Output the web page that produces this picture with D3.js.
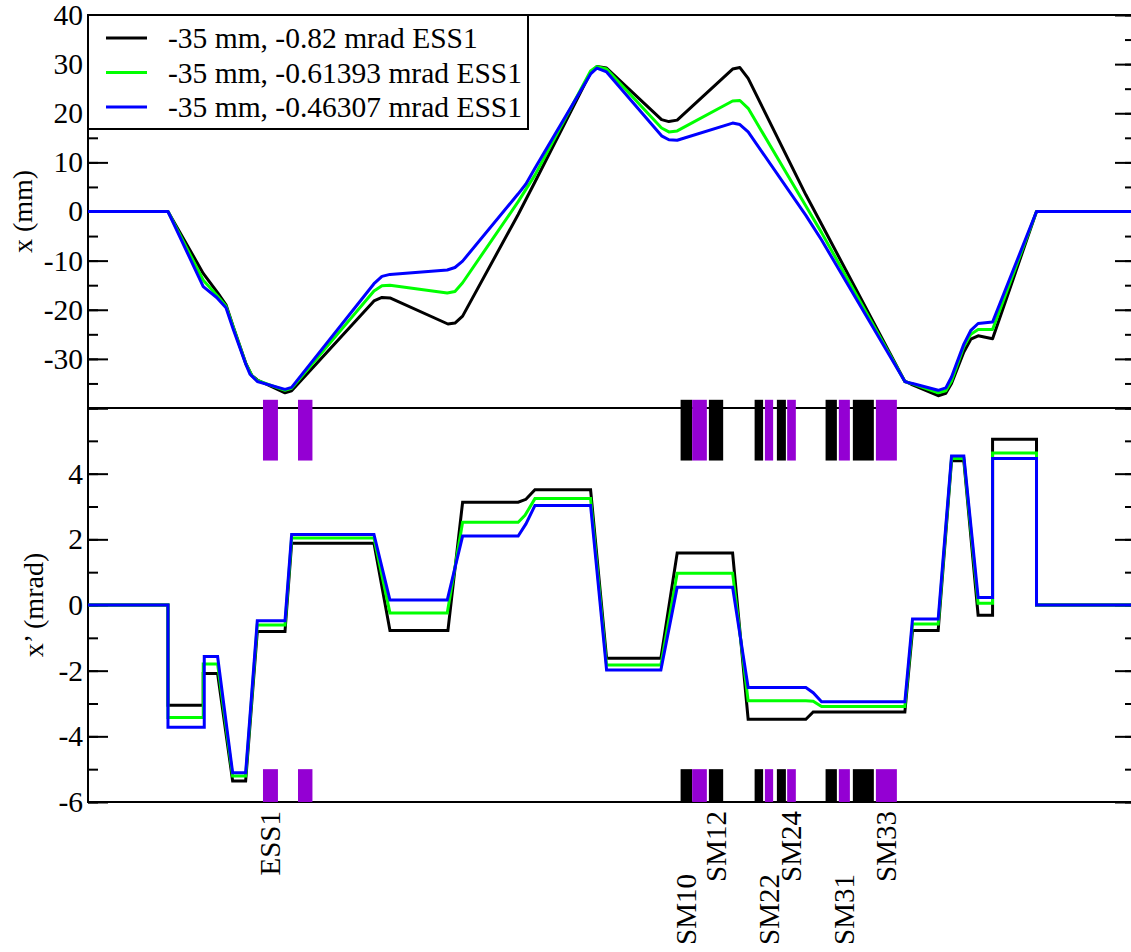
<!DOCTYPE html>
<html>
<head>
<meta charset="utf-8">
<script src="https://cdn.jsdelivr.net/npm/d3@7/dist/d3.min.js"></script>
<style>
  body { margin: 0; background: #fff; }
  #content { width: 1131px; height: 952px; }
  svg text { font-family: 'Liberation Serif', 'Times New Roman', serif; }
</style>
</head>
<body>
<div id="content"></div>
<script>
var seriesNames = ['-35 mm, -0.82 mrad ESS1', '-35 mm, -0.61393 mrad ESS1', '-35 mm, -0.46307 mrad ESS1'];
var seriesColors = ['#000000', '#00ff00', '#0000ff'];

// x (mm) against s (m)
var xBlack = [[0,0],[9.41,0],[13.56,-12.6],[15.29,-16.6],[16.24,-19.0],[17.06,-23.3],[18.59,-31.0],[19.29,-33.4],
  [19.92,-34.3],[23.18,-36.9],[23.96,-36.5],[33.65,-18.2],[34.59,-17.5],[35.53,-17.6],[42.35,-22.9],[43.18,-22.7],
  [44.08,-21.3],[50.62,-0.6],[52.59,6.0],[59.14,28.3],[59.88,29.5],[61.02,29.2],[67.49,18.7],[68.35,18.3],[69.33,18.6],
  [75.85,29.0],[76.71,29.3],[77.68,27.1],[84.47,3.4],[86.32,-2.6],[96.12,-34.6],[96.45,-34.8],[97.02,-35.3],
  [100.04,-37.5],[100.94,-37.0],[101.61,-35.0],[103.06,-28.6],[103.88,-26.0],[104.74,-25.3],[106.44,-25.9],
  [111.61,0],[123.2,0]];
var xGreen = [[0,0],[9.41,0],[13.56,-14.0],[15.29,-17.3],[16.24,-19.3],[17.06,-23.4],[18.59,-31.1],[19.29,-33.4],
  [19.92,-34.4],[23.18,-36.4],[23.96,-36.0],[33.65,-16.2],[34.59,-15.1],[35.53,-15.0],[42.27,-16.6],[43.18,-16.3],
  [44.08,-14.5],[50.62,2.0],[52.59,7.4],[59.14,28.6],[59.88,29.5],[61.02,29.0],[67.49,17.0],[68.35,16.2],[69.33,16.4],
  [75.85,22.5],[76.71,22.6],[77.68,21.0],[84.47,1.1],[86.32,-4.3],[96.12,-34.6],[96.45,-34.8],[97.02,-35.1],
  [100.04,-36.9],[100.94,-36.5],[101.61,-34.5],[103.06,-27.5],[103.88,-25.0],[104.74,-24.0],[106.44,-24.0],
  [111.61,0],[123.2,0]];
var xBlue = [[0,0],[9.41,0],[13.56,-15.3],[15.14,-17.5],[16.24,-19.6],[17.06,-23.8],[18.59,-31.2],[19.06,-33.1],
  [19.92,-34.6],[23.18,-36.2],[23.96,-35.8],[33.65,-14.7],[34.59,-13.2],[35.53,-12.8],[42.27,-11.9],[43.18,-11.4],
  [44.08,-10.1],[50.62,3.6],[51.53,5.6],[52.59,8.8],[59.14,28.0],[59.88,29.2],[61.02,28.4],[67.49,15.4],[68.35,14.6],
  [69.33,14.5],[75.85,18.0],[76.71,17.7],[77.68,16.2],[84.47,-0.8],[86.32,-5.8],[96.12,-34.6],[96.45,-34.8],
  [97.02,-35.0],[100.04,-36.4],[100.94,-35.9],[101.61,-33.7],[103.06,-27.0],[103.88,-24.2],[104.74,-22.8],
  [106.44,-22.5],[111.61,0],[123.2,0]];

// x' (mrad) against s (m)
var xpBlack = [[0,0],[9.41,0],[9.41,-3.05],[13.56,-3.05],[13.56,-2.09],[15.25,-2.09],[17.02,-5.36],[18.55,-5.36],
  [19.92,-0.81],[23.18,-0.81],[23.96,1.88],[33.65,1.88],[35.53,-0.78],[42.35,-0.78],[44.08,3.13],[50.62,3.13],
  [51.53,3.22],[52.59,3.51],[59.14,3.51],[61.02,-1.62],[67.41,-1.62],[69.33,1.58],[75.85,1.58],[77.68,-3.48],
  [84.47,-3.48],[85.33,-3.26],[96.12,-3.26],[97.02,-0.78],[100.04,-0.78],[101.61,4.39],[103.06,4.39],[104.74,-0.31],
  [106.44,-0.31],[106.44,5.05],[111.61,5.05],[111.61,0],[123.2,0]];
var xpGreen = [[0,0],[9.41,0],[9.41,-3.43],[13.56,-3.43],[13.56,-1.80],[15.25,-1.80],[17.02,-5.21],[18.55,-5.21],
  [19.92,-0.61],[23.18,-0.61],[23.96,2.04],[33.65,2.04],[35.53,-0.24],[42.27,-0.24],[44.08,2.52],[50.62,2.52],
  [51.42,2.73],[52.59,3.24],[59.14,3.24],[61.02,-1.83],[67.41,-1.83],[69.33,0.97],[75.85,0.97],[77.68,-2.92],
  [84.47,-2.92],[85.33,-2.93],[86.32,-3.09],[96.12,-3.09],[97.02,-0.58],[100.04,-0.58],[101.61,4.46],[103.06,4.46],
  [104.74,0.05],[106.44,0.05],[106.44,4.63],[111.61,4.63],[111.61,0],[123.2,0]];
var xpBlue = [[0,0],[9.41,0],[9.41,-3.72],[13.68,-3.72],[13.68,-1.57],[15.25,-1.57],[17.02,-5.11],[18.55,-5.11],
  [19.92,-0.48],[23.18,-0.48],[23.96,2.15],[33.65,2.15],[35.53,0.15],[42.27,0.15],[44.08,2.10],[50.62,2.10],
  [51.53,2.47],[52.59,3.03],[59.14,3.03],[61.02,-1.98],[67.41,-1.98],[69.33,0.54],[75.85,0.54],[77.68,-2.51],
  [84.47,-2.51],[85.33,-2.67],[86.32,-2.95],[96.12,-2.95],[97.02,-0.43],[100.04,-0.43],[101.61,4.54],[103.06,4.54],
  [104.74,0.23],[106.44,0.23],[106.44,4.46],[111.61,4.46],[111.61,0],[123.2,0]];

// lattice elements: start s, end s, kind (b = bend, q = quad)
var magnets = [[20.59,22.35,'b'],[24.71,26.41,'b'],
  [69.73,71.09,'q'],[71.09,72.82,'b'],[73.06,74.74,'q'],
  [78.44,79.44,'q'],[79.65,80.62,'b'],[81.06,82.12,'q'],[82.27,83.29,'b'],
  [86.79,88.12,'q'],[88.35,89.65,'b'],[90.0,92.47,'q'],[92.71,95.18,'b']];
var elementNames = ['ESS1', 'SM10', 'SM12', 'SM22', 'SM24', 'SM31', 'SM33'];
var elementS = [21.47, 70.41, 73.9, 80.13, 82.78, 89.0, 93.95];

var xTicks = [-30, -20, -10, 0, 10, 20, 30, 40];
var xpTicks = [-6, -4, -2, 0, 2, 4];

var font = "'Liberation Serif', 'Times New Roman', serif";

var svg = d3.select('div#content').append('svg')
  .attr('width', 1131)
  .attr('height', 952);

var sScale = d3.scaleLinear().domain([0, 123.2]).range([88, 1135]);
var yTop = d3.scaleLinear().domain([-40, 40]).range([408, 15]);
var yBot = d3.scaleLinear().domain([-6, 6]).range([802, 408]);

function drawAxes(y, majors, minorStep, labels){
  var lo = y.domain()[0], hi = y.domain()[1];
  var minors = d3.range(lo, hi + 0.001, minorStep);
  var left = svg.append('g').attr('transform', 'translate(88,0)');
  left.call(d3.axisLeft(y).tickValues(minors).tickSize(-10).tickFormat(''));
  left.select('.domain').remove();
  var leftMaj = svg.append('g').attr('transform', 'translate(88,0)');
  leftMaj.call(d3.axisLeft(y).tickValues(majors).tickSize(-20).tickPadding(5)
    .tickFormat(function(d){ return labels.indexOf(d) >= 0 ? String(d) : ''; }));
  leftMaj.select('.domain').remove();
  leftMaj.attr('font-family', null);
  leftMaj.selectAll('text')
    .style('font-family', font)
    .attr('font-size', 29.5)
    .attr('fill', '#000');
  var right = svg.append('g').attr('transform', 'translate(1135,0)');
  right.call(d3.axisRight(y).tickValues(minors).tickSize(-10).tickFormat(''));
  right.select('.domain').remove();
  var rightMaj = svg.append('g').attr('transform', 'translate(1135,0)');
  rightMaj.call(d3.axisRight(y).tickValues(majors).tickSize(-20).tickFormat(''));
  rightMaj.select('.domain').remove();
  svg.selectAll('.tick line').attr('stroke', '#000').attr('stroke-width', 2);
}

drawAxes(yTop, d3.range(-40, 41, 10), 5, xTicks);
drawAxes(yBot, d3.range(-6, 7, 2), 1, xpTicks);

// frame
svg.append('rect')
  .attr('x', 88).attr('y', 15)
  .attr('width', 1135 - 88).attr('height', 802 - 15)
  .attr('fill', 'none').attr('stroke', '#000').attr('stroke-width', 2);
svg.append('line')
  .attr('x1', 88).attr('x2', 1135)
  .attr('y1', yTop(-40)).attr('y2', yTop(-40))
  .attr('stroke', '#000').attr('stroke-width', 2);

var lineTop = d3.line().x(function(d){ return sScale(d[0]); }).y(function(d){ return yTop(d[1]); });
var lineBot = d3.line().x(function(d){ return sScale(d[0]); }).y(function(d){ return yBot(d[1]); });

[xBlack, xGreen, xBlue].forEach(function(data, i){
  svg.append('path')
    .attr('d', lineTop(data))
    .attr('fill', 'none')
    .attr('stroke', seriesColors[i])
    .attr('stroke-width', 3)
    .attr('stroke-linejoin', 'round');
});
[xpBlack, xpGreen, xpBlue].forEach(function(data, i){
  svg.append('path')
    .attr('d', lineBot(data))
    .attr('fill', 'none')
    .attr('stroke', seriesColors[i])
    .attr('stroke-width', 3)
    .attr('stroke-linejoin', 'miter');
});

// element markers, one row hanging from the panel divide, one sitting on the bottom axis
var markerRows = [[4.4, 6.25], [-6, -5.0]];
markerRows.forEach(function(row){
  svg.append('g')
    .selectAll('rect')
    .data(magnets)
    .enter()
    .append('rect')
    .attr('x', function(d){ return sScale(d[0]); })
    .attr('width', function(d){ return sScale(d[1]) - sScale(d[0]); })
    .attr('y', yBot(row[1]))
    .attr('height', yBot(row[0]) - yBot(row[1]))
    .attr('fill', function(d){ return d[2] === 'b' ? '#9400d3' : '#000000'; });
});

// element names, staggered when the next name is close
for(let i = 0; i < elementNames.length; i++){
  let px = sScale(elementS[i]);
  let next = elementS.filter(function(s){ return s > elementS[i]; });
  let crowded = next.length && (sScale(d3.min(next)) - px) < 45;
  svg.append('text')
    .attr('transform', 'translate(' + px + ',' + (crowded ? 874 : 811) + ') rotate(-90)')
    .attr('text-anchor', 'end')
    .attr('dy', '0.33em')
    .style('font-family', font)
    .attr('font-size', 29)
    .text(elementNames[i]);
}

// axis titles
svg.append('text')
  .attr('transform', 'translate(32,' + yTop(0) + ') rotate(-90)')
  .attr('text-anchor', 'middle')
  .style('font-family', font)
  .attr('font-size', 28)
  .text('x (mm)');
svg.append('text')
  .attr('transform', 'translate(43,' + yBot(0) + ') rotate(-90)')
  .attr('text-anchor', 'middle')
  .style('font-family', font)
  .attr('font-size', 28)
  .text('x\u2019 (mrad)');

// legend
var legend = svg.append('g');
legend.append('rect')
  .attr('x', 88).attr('y', 15)
  .attr('width', 440).attr('height', 114)
  .attr('fill', '#fff').attr('stroke', '#000').attr('stroke-width', 2);
seriesNames.forEach(function(name, i){
  let y = 38 + i * 34.5;
  legend.append('line')
    .attr('x1', 106).attr('x2', 147)
    .attr('y1', y).attr('y2', y)
    .attr('stroke', seriesColors[i]).attr('stroke-width', 3);
  legend.append('text')
    .attr('x', 168).attr('y', y + 10)
    .style('font-family', font)
    .attr('font-size', 29.5)
    .text(name);
});
</script>
</body>
</html>
